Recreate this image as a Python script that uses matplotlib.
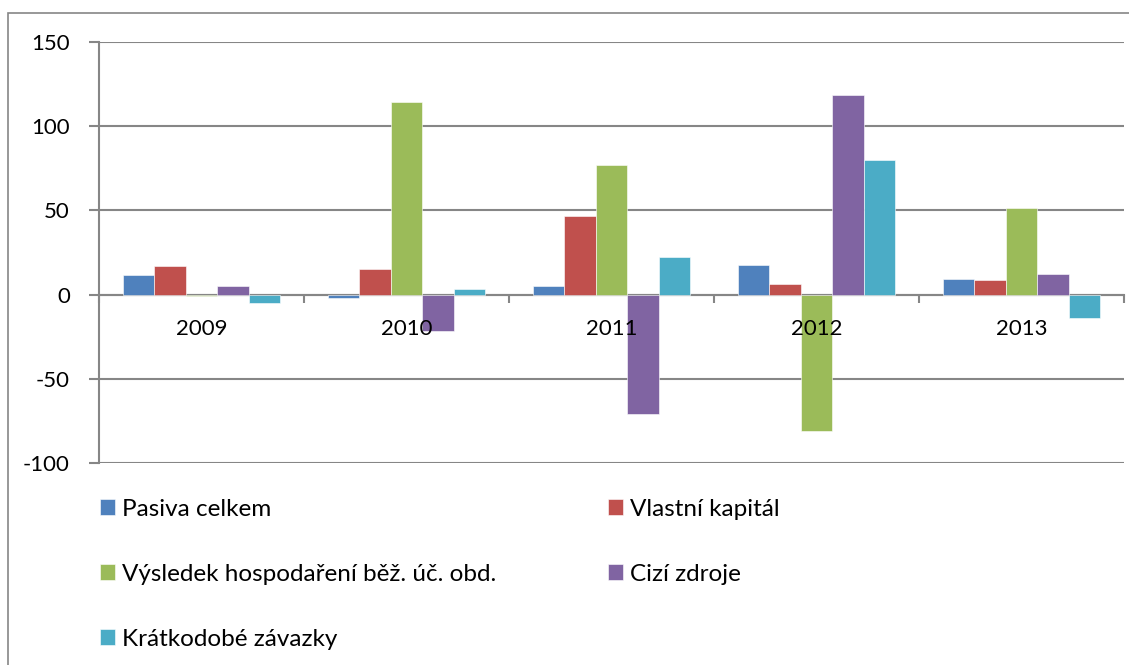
import matplotlib.pyplot as plt
from matplotlib.patches import Rectangle
import numpy as np

# hodnoty (%)
roky = ['2009', '2010', '2011', '2012', '2013']
pasiva_celkem = [11.5, -2.0, 4.9, 17.4, 9.5]
vlastni_kapital = [16.8, 14.9, 46.8, 6.1, 8.5]
vysledek_hosp = [-1.0, 114.7, 77.0, -81.2, 51.5]
cizi_zdroje = [5.1, -21.8, -70.8, 118.6, 12.3]
kratkodobe_zav = [-4.8, 3.0, 22.6, 79.9, -14.1]

nazvy = ['Pasiva celkem', 'Vlastní kapitál', 'Výsledek hospodaření běž. úč. obd.',
         'Cizí zdroje', 'Krátkodobé závazky']
barvy = ['#4F81BD', '#C0504D', '#9BBB59', '#8064A2', '#4BACC6']
rady = [pasiva_celkem, vlastni_kapital, vysledek_hosp, cizi_zdroje, kratkodobe_zav]

plt.rcParams['font.family'] = ['Lato', 'DejaVu Sans']
plt.rcParams['axes.unicode_minus'] = False
seda = '#868686'

fig = plt.figure(figsize=(11.29, 6.65), dpi=100)
ax = fig.add_axes([0.0877, 0.3042, 0.9079, 0.6322])

x = np.arange(len(roky))
w = 1 / 6.5
sloupce = []
for i, (hodnoty, barva, nazev) in enumerate(zip(rady, barvy, nazvy)):
    b = ax.bar(x + (i - 2) * w, hodnoty, w, color=barva, edgecolor='white',
               linewidth=0.4, label=nazev, zorder=3)
    sloupce.append(b)

ax.set_xlim(-0.5, 4.5)
ax.set_ylim(-100, 150)
ax.set_yticks([-100, -50, 0, 50, 100, 150])
ax.grid(axis='y', color=seda, linewidth=1.5, zorder=0)
ax.set_axisbelow(True)

for s in ['top', 'right']:
    ax.spines[s].set_visible(False)
ax.spines['left'].set_color(seda)
ax.spines['left'].set_linewidth(1.5)
ax.spines['bottom'].set_position(('data', 0))
ax.spines['bottom'].set_color(seda)
ax.spines['bottom'].set_linewidth(1.5)

ax.set_xticks(np.arange(-0.5, 5, 1))
ax.set_xticklabels([])
ax.tick_params(axis='x', which='major', length=6, width=1.5, color=seda, direction='out')
ax.tick_params(axis='y', length=7, width=1.5, color=seda, pad=14, labelsize=16)

# popisky let nad sloupci (jako v Excelu)
for xi, rok in zip(x, roky):
    ax.annotate(rok, (xi, 0), xytext=(0, -24.5), textcoords='offset points',
                ha='center', va='center', fontsize=16, zorder=5)

# legenda ve dvou sloupcích
poradi = [0, 2, 4, 1, 3]
fig.legend([sloupce[i] for i in poradi], [nazvy[i] for i in poradi],
           loc='upper left', bbox_to_anchor=(0.08, 0.2647), ncol=2, frameon=False,
           fontsize=17.5, handlelength=0.62, handleheight=0.62, handletextpad=0.3,
           labelspacing=1.81, columnspacing=4.57, borderaxespad=0)

# rámeček grafu
fig.patches.append(Rectangle((8 / 1129, -0.1), 1.2, 1.1 - 13 / 665, transform=fig.transFigure,
                             fill=False, edgecolor=seda, linewidth=1.2))

fig.savefig('out.png', dpi=100)
